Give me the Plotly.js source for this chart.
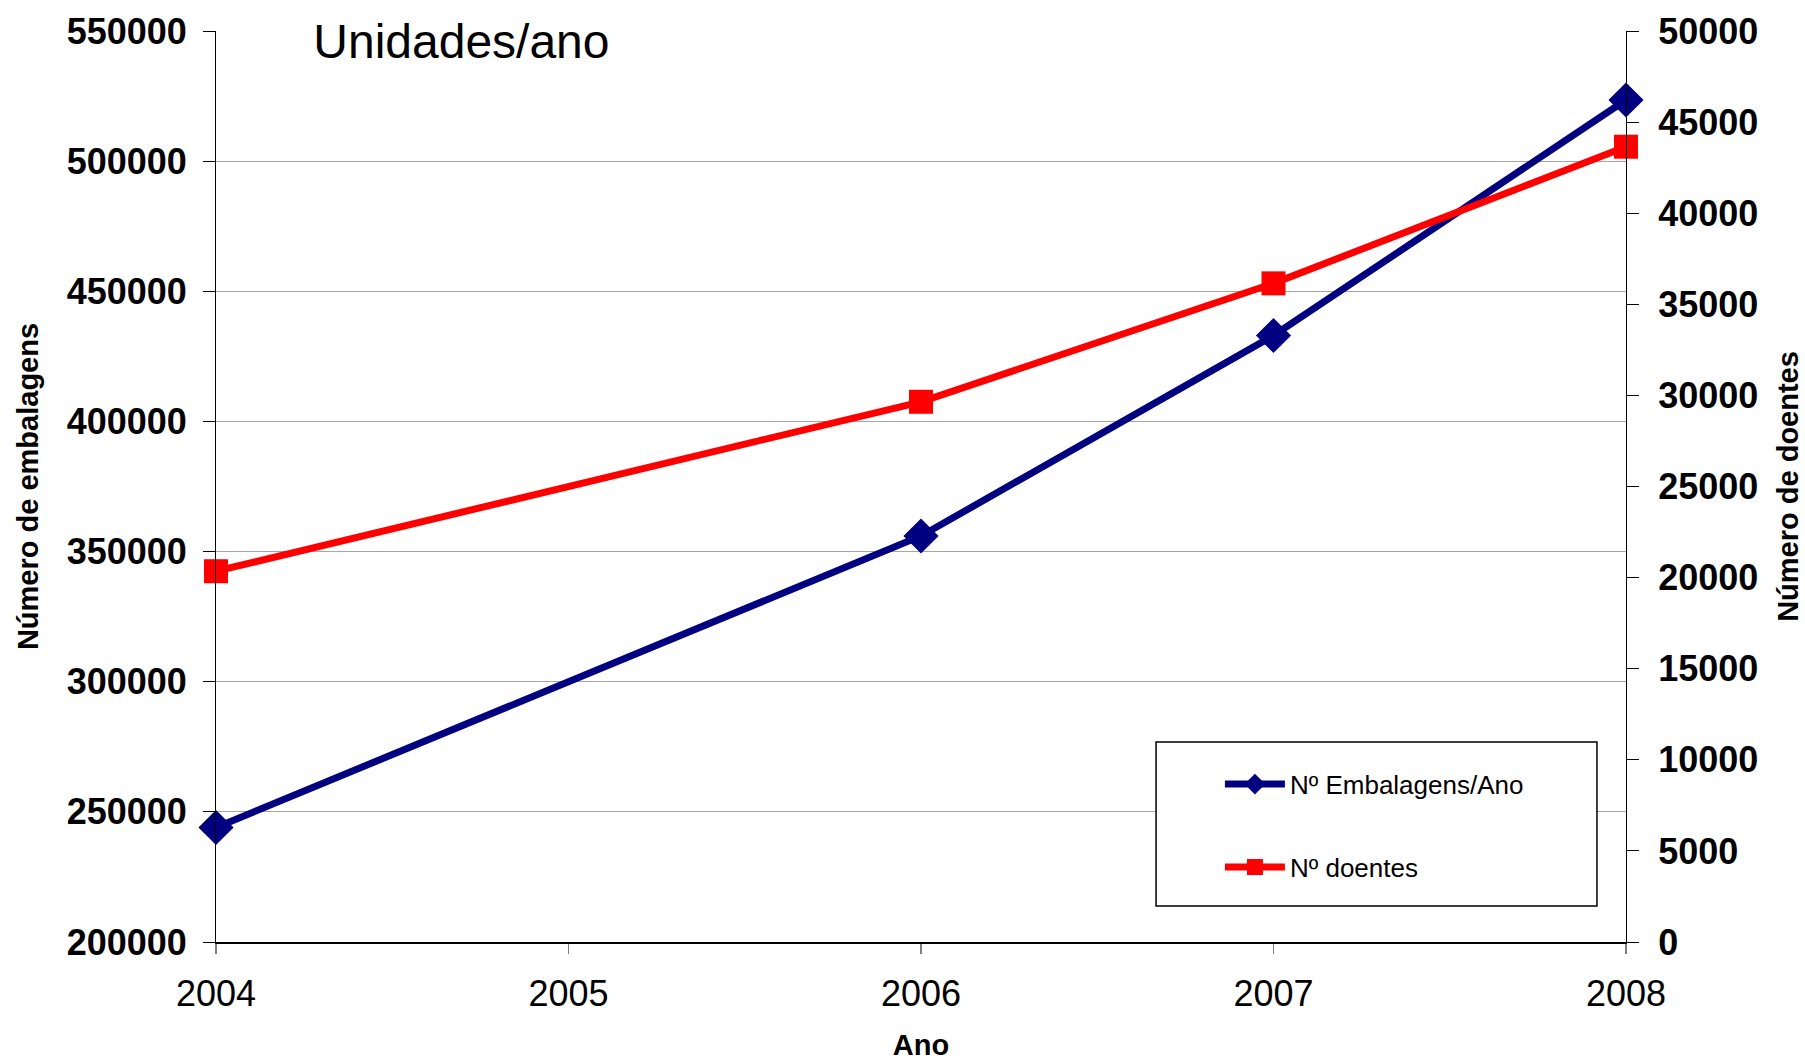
<!DOCTYPE html>
<html>
<head>
<meta charset="utf-8">
<script src="https://cdn.plot.ly/plotly-3.0.1.min.js"></script>
<style>html,body{margin:0;padding:0;background:#fff;}#chart{width:1805px;height:1061px;}</style>
</head>
<body>
<div id="chart"></div>
<script>
// ---- data ----
const years = [2004, 2006, 2007, 2008];
const embalagens = [244000, 356000, 433000, 523500];
const doentes = [20350, 29650, 36150, 43650];
const xTicks = [2004, 2005, 2006, 2007, 2008];
const gridVals = [250000, 300000, 350000, 400000, 450000, 500000];
const seriesNames = ["Nº Embalagens/Ano", "Nº doentes"];
const chartTitle = "Unidades/ano";
const xTitle = "Ano";
const yLeftTitle = "Número de embalagens";
const yRightTitle = "Número de doentes";

const FONT = "Liberation Sans, Arial, sans-serif";

const traces = [
  {
    x: years, y: embalagens, name: seriesNames[0], type: "scatter", mode: "lines+markers",
    line: {color: "#000080", width: 7}, marker: {symbol: "diamond", size: 27, color: "#000080"},
    cliponaxis: false, legendgroup: "a", yaxis: "y"
  },
  {
    x: years, y: doentes, name: seriesNames[1], type: "scatter", mode: "lines+markers",
    line: {color: "#FF0000", width: 7}, marker: {symbol: "square", size: 24, color: "#FF0000"},
    cliponaxis: false, legendgroup: "b", yaxis: "y2"
  }
];

const layout = {
  width: 1805, height: 1061,
  margin: {l: 216, r: 179, t: 31, b: 119},
  paper_bgcolor: "#fff", plot_bgcolor: "#fff",
  font: {family: FONT, color: "#000"},
  showlegend: true,
  title: {text: chartTitle, font: {family: FONT, size: 48, color: "#000"},
          xref: "paper", x: 0.069, xanchor: "left", yref: "container", y: 0.961, yanchor: "middle"},
  xaxis: {
    range: [2004, 2008], tickvals: xTicks, ticktext: xTicks.map(String),
    showgrid: false, zeroline: false, showline: true, linecolor: "#000", linewidth: 1.5,
    ticks: "outside", ticklen: 10, tickcolor: "#808080", tickwidth: 1.5,
    tickfont: {family: FONT, size: 36, color: "#000"}, ticklabelstandoff: 9,
    title: {text: "<b>" + xTitle + "</b>", font: {family: FONT, size: 29, color: "#000"}, standoff: 40}
  },
  yaxis: {
    range: [200000, 550000], dtick: 50000, tickformat: "d",
    showgrid: false, zeroline: false, showline: true, linecolor: "#000", linewidth: 1,
    ticks: "outside", ticklen: 12, tickcolor: "#000", tickwidth: 1,
    tickfont: {family: FONT, size: 36, color: "#000", weight: "bold"}, ticklabelstandoff: 9,
    title: {text: "<b>" + yLeftTitle + "</b>", font: {family: FONT, size: 29, color: "#000"}, standoff: 19}
  },
  yaxis2: {
    range: [0, 50000], dtick: 5000, tickformat: "d", overlaying: "y", side: "right",
    showgrid: false, zeroline: false, showline: true, linecolor: "#000", linewidth: 1,
    ticks: "outside", ticklen: 12, tickcolor: "#000", tickwidth: 1,
    tickfont: {family: FONT, size: 36, color: "#000", weight: "bold"}, ticklabelstandoff: 12,
    title: {text: "<b>" + yRightTitle + "</b>", font: {family: FONT, size: 29, color: "#000"}, standoff: 20}
  },
  yaxis3: {
    range: [200000, 550000], overlaying: "y", tickvals: gridVals, showticklabels: false,
    showgrid: true, gridcolor: "#a6a6a6", gridwidth: 1.2, zeroline: false, showline: false, ticks: ""
  },
  legend: {
    x: 0.712, xanchor: "left", y: 0.199, yanchor: "top",
    bgcolor: "rgba(0,0,0,0)", borderwidth: 0, itemwidth: 60,
    traceorder: "grouped", tracegroupgap: 46,
    font: {family: FONT, size: 26, color: "#000"}
  },
  shapes: [
    {type: "rect", xref: "paper", yref: "paper", x0: 0.6667, x1: 0.9794, y0: 0.0395, y1: 0.2195,
     line: {color: "#000", width: 1.5}, fillcolor: "#fff", layer: "above"}
  ]
};

// hidden trace to activate gridline axis
traces.push({x: [2004], y: [null], yaxis: "y3", showlegend: false, hoverinfo: "skip", type: "scatter", mode: "lines"});

Plotly.newPlot("chart", traces, layout, {staticPlot: true, displayModeBar: false});
</script>
</body>
</html>
